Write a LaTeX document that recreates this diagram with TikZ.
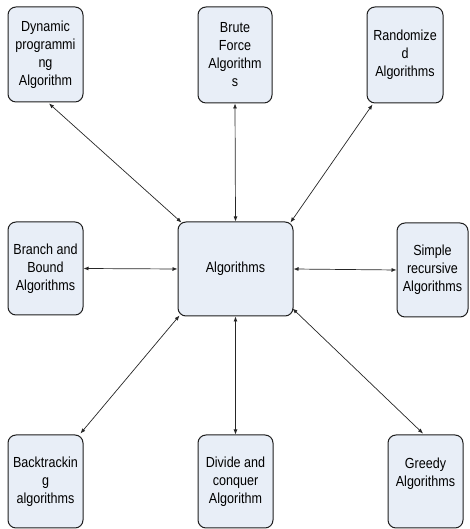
\documentclass[tikz,border=0pt]{standalone}
\usepackage{fontspec}
\setmainfont[FakeStretch=0.86]{Liberation Sans}
\usetikzlibrary{arrows.meta}
\definecolor{boxfill}{RGB}{232,238,247}
\definecolor{boxline}{RGB}{30,30,30}
\tikzset{
  algbox/.style={draw=boxline, line width=1pt, fill=boxfill, rounded corners=8pt,
    align=center, inner sep=0pt,
    font=\fontsize{14.6}{18}\selectfont},
  link/.style={line width=0.7pt, draw=black!85,
    {Latex[length=5pt,width=4pt]}-{Latex[length=5pt,width=4pt]}}
}
\begin{document}
\begin{tikzpicture}[x=1pt,y=1pt]
\useasboundingbox (0,0) rectangle (469,529);
% top row
\node[algbox, minimum width=75pt, minimum height=95pt] (dyn) at (45.5,474.5) {Dynamic\\programmi\\ng\\Algorithm};
\node[algbox, minimum width=74pt, minimum height=96pt] (brute) at (235,474) {Brute\\Force\\Algorithm\\s};
\node[algbox, minimum width=76pt, minimum height=96pt] (rand) at (405,474) {Randomize\\d\\Algorithms};
% middle row
\node[algbox, minimum width=75pt, minimum height=93pt] (branch) at (45.5,260.5) {Branch and\\Bound\\Algorithms};
\node[algbox, minimum width=115pt, minimum height=94pt] (alg) at (235.5,260) {Algorithms};
\node[algbox, minimum width=71pt, minimum height=94pt] (simple) at (432.5,259) {Simple\\recursive\\Algorithms};
% bottom row
\node[algbox, minimum width=75pt, minimum height=93pt] (back) at (45.5,47.5) {Backtrackin\\g\\algorithms};
\node[algbox, minimum width=75pt, minimum height=93pt] (divide) at (235.5,47.5) {Divide and\\conquer\\Algorithm};
\node[algbox, minimum width=75pt, minimum height=93pt] (greedy) at (425.5,47.5) {Greedy\\Algorithms\\\mbox{}};
% connectors
\draw[link] ([xshift=3.5pt,yshift=-1pt]dyn.south) -- ([xshift=4pt,yshift=-1pt]alg.north west);
\draw[link] (brute.south) -- (alg.north);
\draw[link] ([xshift=6pt,yshift=-1pt]rand.south west) -- ([xshift=-3pt,yshift=-1pt]alg.north east);
\draw[link] (branch.east) -- (alg.west);
\draw[link] (simple.west) -- (alg.east);
\draw[link] ([xshift=-3pt,yshift=1pt]back.north east) -- ([xshift=2pt,yshift=1pt]alg.south west);
\draw[link] (divide.north) -- (alg.south);
\draw[link] ([xshift=-2.5pt,yshift=1pt]greedy.north) -- ([xshift=-1pt,yshift=8pt]alg.south east);
\end{tikzpicture}
\end{document}
